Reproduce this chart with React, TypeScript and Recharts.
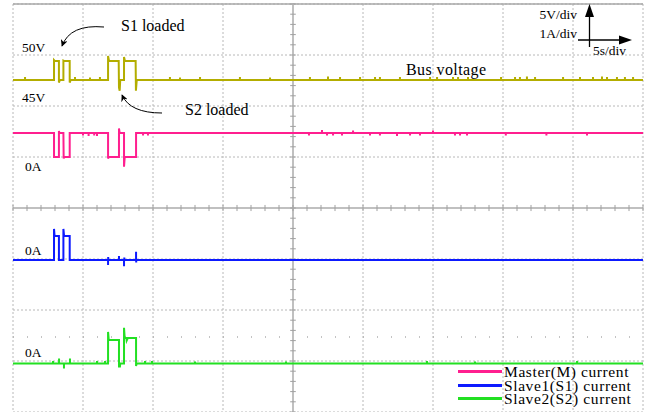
import React from 'react';
import { LineChart, Line, XAxis, YAxis, CartesianGrid, ReferenceLine, Legend } from 'recharts';

// Time axis: 5 s/div, 9 divisions. Vertical: 8 divisions.
const timeTicks = [0, 5, 10, 15, 20, 25, 30, 35, 40, 45];
const divTicks = [0, 1, 2, 3, 4, 5, 6, 7, 8];

// Bus voltage [time s, V]
const busVoltage: [number, number][] = [
  [0, 47.55], [2.93, 47.55], [2.93, 49.5], [3.0, 49.4], [3.28, 49.4], [3.28, 47.3], [3.35, 47.55],
  [3.6, 47.55], [3.6, 49.45], [3.68, 49.4], [4.05, 49.4], [4.05, 47.3], [4.12, 47.55],
  [6.79, 47.55], [6.79, 49.9], [6.86, 49.4], [7.55, 49.4], [7.57, 46.8], [7.62, 46.5], [7.66, 47.55],
  [7.93, 47.55], [7.93, 49.8], [8.0, 49.4], [8.76, 49.4], [8.78, 46.5], [8.84, 47.55], [45, 47.55],
];
const busSpikes: [number, number][] = [
  [0.86, 0.3], [4.43, 0.3], [5.5, 0.25], [6.21, 0.3], [11.21, 0.3], [11.93, 0.25], [13.36, 0.3],
  [16.21, 0.3], [18.36, 0.25], [21.21, 0.3], [22.5, 0.35], [23.36, 0.3], [24.79, 0.3], [25.86, 0.3],
  [26.21, 0.3], [27.64, 0.3], [29.79, 0.3], [30.29, 0.3], [31.43, 0.3], [31.79, 0.3], [32.5, 0.3],
  [34.86, 0.3], [35.86, 0.3], [36.21, 0.3], [36.71, 0.35], [37.29, 0.3], [39.29, 0.3], [40.5, 0.3],
  [41.43, 0.3], [42.07, 0.35], [42.43, 0.3], [43.14, 0.3], [43.71, 0.3], [44.29, 0.3],
];

// Master current [time s, A]
const masterCurrent: [number, number][] = [
  [0, 0.86], [2.93, 0.86], [2.93, 0.39], [3.28, 0.39], [3.28, 0.9], [3.32, 0.86], [3.6, 0.86],
  [3.62, 0.36], [3.66, 0.39], [4.05, 0.39], [4.05, 0.86],
  [6.79, 0.86], [6.79, 0.36], [6.84, 0.39], [7.57, 0.39], [7.57, 0.95], [7.62, 0.86], [7.93, 0.86],
  [7.93, 0.2], [7.98, 0.39], [8.79, 0.39], [8.79, 0.86], [45, 0.86],
];
const masterSpikes: [number, number][] = [
  [5.0, -0.05], [5.4, -0.06], [5.8, -0.05], [6.0, -0.06], [9.29, -0.05], [9.64, -0.05],
  [21.14, -0.05], [22.07, 0.06], [22.43, -0.05], [22.86, -0.05], [23.5, -0.05], [24.29, 0.05],
  [25.5, -0.05], [26.21, -0.05], [27.43, -0.06], [28.36, -0.05], [29.07, -0.05], [30.0, 0.05],
  [31.57, -0.05], [31.93, -0.05], [32.43, -0.05], [35.2, -0.05], [38.1, -0.05], [41.0, -0.05],
];

// Slave1 current [time s, A]
const slave1Current: [number, number][] = [
  [0, 0], [2.93, 0], [2.93, 0.61], [2.97, 0.47], [3.28, 0.47], [3.28, 0], [3.6, 0],
  [3.6, 0.61], [3.65, 0.47], [4.05, 0.47], [4.05, 0], [45, 0],
];
const slave1Spikes: [number, number][] = [
  [6.79, -0.1], [6.8, 0.06], [7.57, 0.08], [7.93, -0.12], [7.95, 0.05], [8.79, 0.16], [8.8, -0.05],
];

// Slave2 current [time s, A]
const slave2Current: [number, number][] = [
  [0, 0], [6.79, 0], [6.79, 0.62], [6.84, 0.46], [7.57, 0.46], [7.57, -0.06], [7.64, -0.06],
  [7.66, 0], [7.93, 0], [7.93, 0.7], [7.98, 0.5], [8.1, 0.5], [8.12, 0.45], [8.2, 0.5],
  [8.79, 0.5], [8.79, -0.05], [8.83, 0], [45, 0],
];
const slave2Spikes: [number, number][] = [
  [2.86, 0.05], [3.29, 0.1], [3.64, -0.1], [4.07, 0.1], [6.0, 0.05], [6.57, 0.05],
  [9.43, 0.05], [9.93, 0.05], [13.0, 0.04], [19.5, 0.04], [29.57, 0.05], [33.0, 0.04], [40.29, 0.05],
];

// channel offsets (division of trace zero) and scale (units per division)
const busRef = { zeroDiv: 7, ref: 50, perDiv: 5 };
const masterZeroDiv = 4.61;
const slave1ZeroDiv = 2.98;
const slave2ZeroDiv = 0.951;

function build(main: [number, number][], spikes: [number, number][], toDiv: (v: number) => number, base: number) {
  const pts: { t: number; y: number }[] = main.map(([t, v]) => ({ t, y: toDiv(v) }));
  spikes.forEach(([t, d]) => {
    pts.push({ t, y: toDiv(base) });
    pts.push({ t, y: toDiv(base + d) });
    pts.push({ t, y: toDiv(base) });
  });
  const idx = pts.map((p, i) => ({ p, i }));
  idx.sort((a, b) => (a.p.t - b.p.t) || (a.i - b.i));
  return idx.map((o) => o.p);
}

const busData = build(busVoltage, busSpikes, (v) => busRef.zeroDiv + (v - busRef.ref) / busRef.perDiv, 47.55);
const masterData = build(masterCurrent, masterSpikes, (a) => masterZeroDiv + a, 0.86);
const slave1Data = build(slave1Current, slave1Spikes, (a) => slave1ZeroDiv + a, 0);
const slave2Data = build(slave2Current, slave2Spikes, (a) => slave2ZeroDiv + a, 0);

const minorX: number[] = [];
for (let s = 0; s <= 45; s += 1) minorX.push(s);
const minorY: number[] = [];
for (let k = 0; k <= 40; k++) minorY.push(k * 0.2);

const FONT = '"Liberation Serif", "Times New Roman", serif';

const renderLegend = (props: any) => {
  const items = (props.payload || []).filter((p: any) => p.type !== 'none');
  return (
    <div style={{ fontFamily: FONT, fontSize: 15.5, letterSpacing: 0.6, color: '#000' }}>
      {items.map((p: any) => (
        <div key={p.value} style={{ display: 'flex', alignItems: 'center', height: 13.5, whiteSpace: 'nowrap' }}>
          <span style={{ display: 'inline-block', width: 44, height: 3, background: p.color, marginRight: 2 }} />
          <span style={{ lineHeight: '13.5px' }}>{p.value}</span>
        </div>
      ))}
    </div>
  );
};

export default function App() {
  const gridColor = '#b8b8b8';
  return (
    <div style={{ position: 'absolute', left: 0, top: 0, width: 645, height: 412, background: '#fff', overflow: 'hidden' }}>
      <LineChart width={645} height={412} margin={{ top: 4, right: 2, bottom: 0, left: 13 }}>
        <XAxis type="number" dataKey="t" domain={[0, 45]} ticks={timeTicks} hide allowDuplicatedCategory={false} />
        <YAxis type="number" domain={[0, 8]} ticks={divTicks} hide />
        <CartesianGrid stroke={gridColor} strokeDasharray="2 2" strokeWidth={1} />
        <ReferenceLine y={8} stroke="#a8a8a8" strokeWidth={1.5} />
        <ReferenceLine y={1.47} stroke="#b0b0b0" strokeDasharray="1 13" strokeWidth={1.5} />
        <ReferenceLine x={20} stroke="#c0c0c0" strokeWidth={2} />
        <ReferenceLine y={4} stroke="#c0c0c0" strokeWidth={2} />
        {minorX.map((s) => (
          <ReferenceLine key={'mx' + s} segment={[{ x: s, y: 3.94 }, { x: s, y: 4.06 }]} stroke="#a0a0a0" strokeWidth={1} />
        ))}
        {minorY.map((d) => (
          <ReferenceLine key={'my' + d} segment={[{ x: 19.8, y: d }, { x: 20.2, y: d }]} stroke="#a0a0a0" strokeWidth={1} />
        ))}
        <Line data={busData} dataKey="y" name="Bus voltage" type="linear" stroke="#b3ad00" strokeWidth={2} dot={false} isAnimationActive={false} legendType="none" />
        <Line data={masterData} dataKey="y" name="Master(M) current" type="linear" stroke="#ff1f8f" strokeWidth={2} dot={false} isAnimationActive={false} />
        <Line data={slave1Data} dataKey="y" name="Slave1(S1) current" type="linear" stroke="#0d1aff" strokeWidth={2} dot={false} isAnimationActive={false} />
        <Line data={slave2Data} dataKey="y" name="Slave2(S2) current" type="linear" stroke="#22e022" strokeWidth={2} dot={false} isAnimationActive={false} />
        <Legend layout="vertical" align="center" verticalAlign="middle" content={renderLegend}
          wrapperStyle={{ left: 458, top: 365, width: 190, height: 42 }} />
      </LineChart>
      <svg width={645} height={412} style={{ position: 'absolute', left: 0, top: 0, pointerEvents: 'none' }}>
        <defs>
          <marker id="ah" viewBox="0 0 10 10" refX="9" refY="5" markerWidth="7" markerHeight="7" orient="auto" markerUnits="userSpaceOnUse">
            <path d="M0,0 L10,5 L0,10 L3,5 Z" fill="#000" />
          </marker>
        </defs>
        <g fontFamily={FONT} fill="#000">
          <text x={121} y={31} fontSize={16}>S1 loaded</text>
          <text x={185} y={115} fontSize={16}>S2 loaded</text>
          <text x={406} y={75} fontSize={16} letterSpacing={0.4}>Bus voltage</text>
          <text x={22} y={52} fontSize={13.5}>50V</text>
          <text x={22} y={102} fontSize={13.5}>45V</text>
          <text x={25} y={171} fontSize={13.5}>0A</text>
          <text x={25} y={255} fontSize={13.5}>0A</text>
          <text x={25} y={357} fontSize={13.5}>0A</text>
          <text x={577} y={18.5} fontSize={13.5} textAnchor="end">5V/div</text>
          <text x={577} y={37.5} fontSize={13.5} textAnchor="end">1A/div</text>
          <text x={593} y={55} fontSize={13.5}>5s/div</text>
        </g>
        <path d="M104,27 Q70,24 62,46" stroke="#000" strokeWidth={1} fill="none" markerEnd="url(#ah)" />
        <path d="M162,113 Q130,113 122,95" stroke="#000" strokeWidth={1} fill="none" markerEnd="url(#ah)" />
        <line x1={589.5} y1={47} x2={589.5} y2={14} stroke="#000" strokeWidth={1.3} />
        <path d="M589.5,4 L585,17 L594,17 Z" fill="#000" />
        <line x1={578} y1={40} x2={622} y2={40} stroke="#000" strokeWidth={1.3} />
        <path d="M632,40 L619,35.5 L619,44.5 Z" fill="#000" />
      </svg>
    </div>
  );
}
